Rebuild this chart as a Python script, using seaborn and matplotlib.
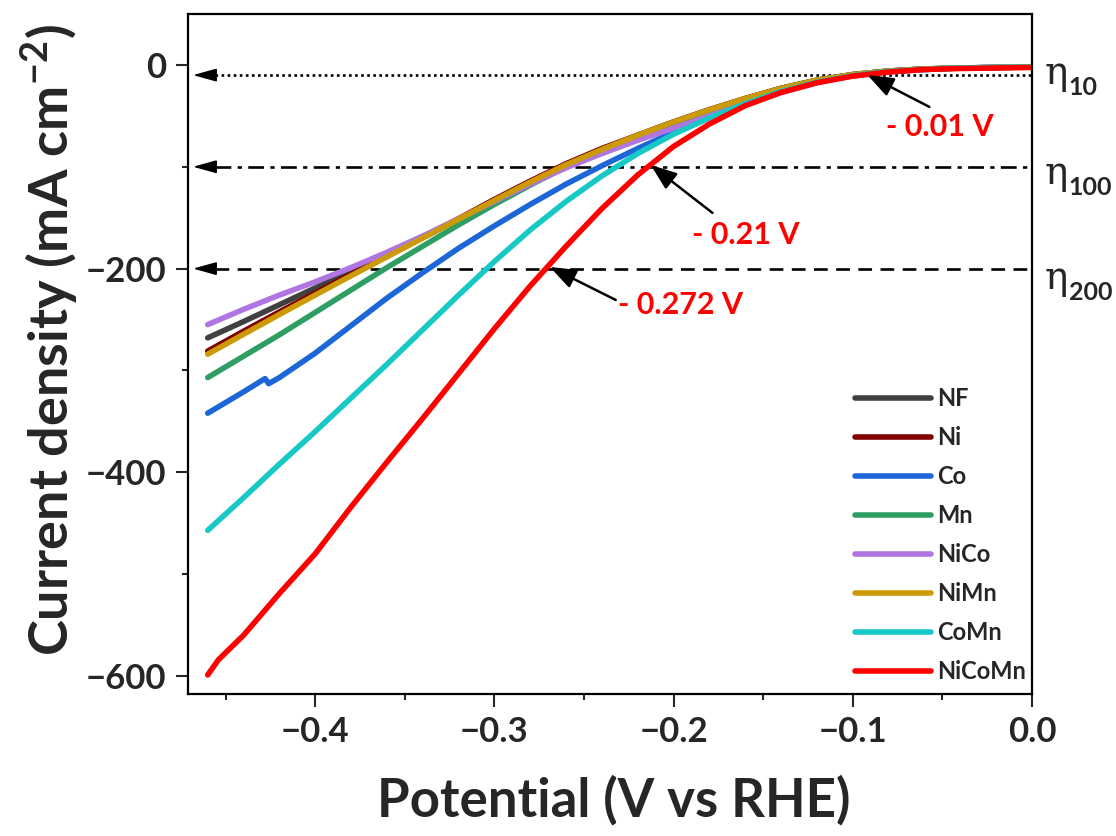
import numpy as np
import pandas as pd
import matplotlib
matplotlib.use("Agg")
import matplotlib.pyplot as plt
import matplotlib.transforms as mtransforms
from matplotlib.ticker import MultipleLocator
import seaborn as sns

# ---------------- data ----------------
E = [-0.46, -0.44, -0.42, -0.40, -0.38, -0.36, -0.34, -0.32, -0.30, -0.28, -0.26,
     -0.24, -0.22, -0.20, -0.18, -0.16, -0.14, -0.12, -0.10, -0.08, -0.06, -0.04,
     -0.02, 0.00]

j_NF = [-268, -252, -235.5, -219, -202.5, -186.5, -169.5, -151.5, -133, -115, -97.5,
        -83, -69, -56, -44, -33, -23, -15, -9.5, -6, -4, -3, -2.5, -2]
j_Ni = [-281, -261.5, -242.5, -224, -205.5, -187.5, -169.5, -151, -132, -114, -97,
        -82, -69, -56, -44, -33, -23, -15, -9.5, -6, -4, -3, -2.5, -2]
j_Mn = [-307, -286, -265, -243, -221, -199, -178, -157, -137, -118, -100, -85, -71,
        -58, -45.5, -34, -23.5, -15, -9.5, -6, -4, -3, -2.5, -2]
j_NiCo = [-255, -240, -226, -213, -199, -184, -168, -151, -134, -117, -101, -87, -74,
          -62, -50, -38, -27, -17.5, -10.5, -6.5, -4.5, -3, -2.5, -2]
j_NiMn = [-284, -264.5, -245, -226, -207, -188.5, -170, -151.5, -133, -115, -98, -83,
          -69, -56, -44, -33, -23, -15, -9.5, -6, -4, -3, -2.5, -2]
j_CoMn = [-457, -425, -392, -360, -327, -294, -260, -226, -193, -162, -134, -109, -87,
          -68, -52, -38, -26, -17, -10.5, -6.5, -4.5, -3, -2.5, -2]

E_Co = [-0.46, -0.44, -0.428, -0.426, -0.42, -0.40, -0.38, -0.36, -0.34, -0.32, -0.30,
        -0.28, -0.26, -0.24, -0.22, -0.20, -0.18, -0.16, -0.14, -0.12, -0.10, -0.08,
        -0.06, -0.04, -0.02, 0.00]
j_Co = [-342, -321, -308, -313, -307, -283, -256, -229, -204, -180, -158, -137, -117,
        -99, -82, -66, -51, -38, -26.5, -17, -10.5, -6.5, -4.5, -3, -2.5, -2]

E_NiCoMn = [-0.46, -0.454, -0.44, -0.42, -0.40, -0.38, -0.36, -0.34, -0.32, -0.30,
            -0.28, -0.26, -0.24, -0.22, -0.20, -0.18, -0.16, -0.14, -0.12, -0.10,
            -0.08, -0.06, -0.04, -0.02, 0.00]
j_NiCoMn = [-599, -584, -560, -519, -480, -434, -390, -347, -303, -259, -217, -178,
            -141, -108, -80, -58, -40, -27, -17.5, -11, -7, -4.5, -3.5, -3, -2.5]

samples = ["NF", "Ni", "Co", "Mn", "NiCo", "NiMn", "CoMn", "NiCoMn"]
colors = ["#404040", "#800000", "#1c66d8", "#2f9e63", "#b075e0", "#cc9a06",
          "#17c9c6", "#ff0000"]

ref_levels = [-10, -100, -200]
ref_labels = ["10", "100", "200"]

ann_texts = ["- 0.01 V", "- 0.21 V", "- 0.272 V"]
ann_tips = [(-0.0919, -9.8), (-0.2128, -98.2), (-0.2691, -198.4)]
ann_tails = [(-0.0573, -41.2), (-0.1783, -145.3), (-0.2323, -230.8)]
ann_textpos = [(-0.0517, -60.9), (-0.160, -167.0), (-0.196, -236.0)]

# ---------------- long-form table ----------------
series = {
    "NF": (E, j_NF), "Ni": (E, j_Ni), "Co": (E_Co, j_Co), "Mn": (E, j_Mn),
    "NiCo": (E, j_NiCo), "NiMn": (E, j_NiMn), "CoMn": (E, j_CoMn),
    "NiCoMn": (E_NiCoMn, j_NiCoMn),
}
rows = []
for s in samples:
    xs, ys = series[s]
    for x, y in zip(xs, ys):
        rows.append({"E": x, "J": y, "sample": s})
df = pd.DataFrame(rows)

# ---------------- style ----------------
sns.set_style("ticks")
plt.rcParams["font.family"] = ["Lato", "DejaVu Sans"]
plt.rcParams["font.weight"] = "bold"
plt.rcParams["mathtext.fontset"] = "custom"
plt.rcParams["mathtext.rm"] = "Lato:bold"
plt.rcParams["mathtext.bf"] = "Lato:bold"
plt.rcParams["mathtext.it"] = "Lato:bold"
plt.rcParams["mathtext.default"] = "bf"
plt.rcParams["axes.linewidth"] = 1.6

fig = plt.figure(figsize=(11.16, 8.36), dpi=100)
fig.patch.set_facecolor("white")
ax = fig.add_axes([188 / 1116, 1 - 694 / 836, (1032 - 188) / 1116, (694 - 14) / 836])
ax.set_facecolor("white")

palette = dict(zip(samples, colors))
sns.lineplot(data=df, x="E", y="J", hue="sample", hue_order=samples,
             palette=palette, sort=False, estimator=None, units="sample",
             lw=4, ax=ax, legend=True)
for ln in ax.get_lines():
    ln.set_solid_capstyle("round")
    ln.set_solid_joinstyle("round")

xmin, xmax = -0.471, 0.0
ax.set_xlim(xmin, xmax)
ax.set_ylim(-617.7, 50)

# reference lines
styles = [(0, (1, 1.3)), (0, (6, 2.4, 1.6, 2.4)), (0, (5.2, 3.2))]
for lev, st in zip(ref_levels, styles):
    ax.plot([-0.456, xmax], [lev, lev], color="black", lw=1.9, ls=st, zorder=1)
    ax.annotate("", xy=(-0.4682, lev), xytext=(-0.4555, lev),
                arrowprops=dict(arrowstyle="-|>,head_length=0.72,head_width=0.2",
                                color="black", lw=1.2, shrinkA=0, shrinkB=0,
                                mutation_scale=20), zorder=3)

# eta labels on the right
trans = mtransforms.blended_transform_factory(ax.transAxes, ax.transData)
eta_base = [-18.7, -116.9, -220.0]
for lev, lab, yb in zip(ref_levels, ref_labels, eta_base):
    ax.text(1.0154, yb, "η", transform=trans, fontsize=28, family=["DejaVu Serif"],
            fontweight="normal", ha="left", va="baseline", clip_on=False)
    ax.text(1.0435, yb - 11, lab, transform=trans, fontsize=18, fontweight="bold",
            ha="left", va="baseline", clip_on=False)

# annotations
for txt, tip, tail, tp in zip(ann_texts, ann_tips, ann_tails, ann_textpos):
    ax.annotate("", xy=tip, xytext=tail,
                arrowprops=dict(arrowstyle="-|>,head_length=0.8,head_width=0.3",
                                color="black", lw=1.8, shrinkA=0, shrinkB=0,
                                mutation_scale=20), zorder=6)
    ax.text(tp[0], tp[1], txt, color="#ff0000", fontsize=22, fontweight="bold",
            ha="center", va="center", zorder=6)

# ticks
ax.xaxis.set_major_locator(MultipleLocator(0.1))
ax.xaxis.set_minor_locator(MultipleLocator(0.05))
ax.yaxis.set_major_locator(MultipleLocator(200))
ax.yaxis.set_minor_locator(MultipleLocator(100))
ax.tick_params(which="major", direction="out", length=9, width=1.5,
               labelsize=25, pad=7)
ax.tick_params(which="minor", direction="out", length=4.5, width=1.5)
ax.tick_params(top=False, right=False, which="both")
for lab in ax.get_xticklabels() + ax.get_yticklabels():
    lab.set_fontweight("bold")
for sp in ax.spines.values():
    sp.set_visible(True)
    sp.set_linewidth(1.6)
    sp.set_color("black")

ax.set_xlabel("Potential (V vs RHE)", fontsize=38, fontweight="bold")
ax.set_ylabel("Current density (mA cm$^{-2}$)", fontsize=39, fontweight="bold")
ax.xaxis.label.set_ha("center"); ax.xaxis.label.set_va("center")
ax.yaxis.label.set_ha("center"); ax.yaxis.label.set_va("center")
ax.xaxis.set_label_coords(0.5047, -0.156)
ax.yaxis.set_label_coords(-0.1635, 0.52)

handles, labels = ax.get_legend_handles_labels()
leg = ax.legend(handles, labels, loc="lower right", bbox_to_anchor=(0.998, 0.009),
                frameon=False, handlelength=3.2, handletextpad=0.25,
                labelspacing=0.68, borderaxespad=0.0, borderpad=0.2,
                prop={"size": 17, "weight": "bold"})
for h in leg.legend_handles:
    h.set_linewidth(4)
    h.set_solid_capstyle("round")

fig.savefig("out.png", dpi=100, facecolor="white")
